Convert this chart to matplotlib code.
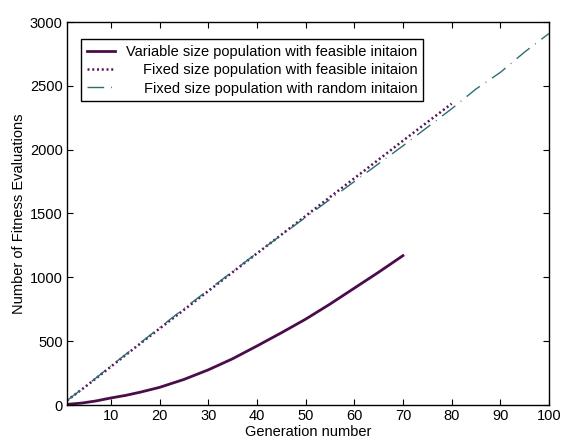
import matplotlib
matplotlib.use("Agg")
import matplotlib.pyplot as plt

plt.rcParams['font.family'] = ['Liberation Sans', 'DejaVu Sans']

# Data
var_gen = [1, 4, 7, 10, 13, 16, 20, 25, 30, 35, 40, 45, 50, 55, 60, 65, 70]
var_eval = [5, 15, 32, 55, 75, 100, 138, 200, 275, 362, 462, 565, 672, 790, 915, 1040, 1170]

fix_gen = [1, 5, 10, 15, 20, 25, 30, 35, 40, 45, 50, 55, 60, 65, 70, 75, 80]
fix_eval = [35, 150, 300, 450, 598, 745, 892, 1040, 1187, 1333, 1480, 1628,
            1775, 1922, 2070, 2215, 2360]

rnd_gen = [1, 5, 10, 15, 20, 25, 30, 35, 40, 45, 50, 55, 60, 65, 70, 75, 80,
           85, 90, 95, 100]
rnd_eval = [35, 152, 305, 455, 605, 755, 900, 1045, 1190, 1330, 1470, 1610,
            1750, 1890, 2030, 2175, 2320, 2475, 2605, 2765, 2910]

labels = ["Variable size population with feasible initaion",
          "Fixed size population with feasible initaion",
          "Fixed size population with random initaion"]

x_ticks = [10, 20, 30, 40, 50, 60, 70, 80, 90, 100]
y_ticks = [0, 500, 1000, 1500, 2000, 2500, 3000]

FS = 10.5

fig = plt.figure(figsize=(5.61, 4.40), dpi=100)
ax = fig.add_axes([67/561, 1-405/440, 482/561, 383/440])

ax.plot(var_gen, var_eval, color='#4a0c4a', lw=2.0, linestyle='-', label=labels[0])
ax.plot(fix_gen, fix_eval, color='#55155a', lw=1.8, linestyle=(0, (0.8, 1.1)), label=labels[1])
ax.plot(rnd_gen, rnd_eval, color='#2a6e70', lw=1.0, linestyle=(0, (12, 5, 0.6, 5)), label=labels[2])

ax.set_xlim(1, 100)
ax.set_ylim(0, 3000)
ax.set_xticks(x_ticks)
ax.set_yticks(y_ticks)
ax.tick_params(direction='in', top=True, right=True, labelsize=FS, length=4, width=0.8, pad=3)
for s in ax.spines.values():
    s.set_linewidth(1.0)

ax.set_xlabel("Generation number", fontsize=FS, labelpad=1)
ax.set_ylabel("Number of Fitness Evaluations", fontsize=FS, labelpad=3)

leg = ax.legend(loc='upper left', bbox_to_anchor=(14/482, 366/383), borderaxespad=0,
                fontsize=FS, fancybox=False, framealpha=1, edgecolor='black',
                handlelength=1.9, handletextpad=0.8, labelspacing=0.3, borderpad=0.4)
leg.get_frame().set_linewidth(1.0)

fig.canvas.draw()
renderer = fig.canvas.get_renderer()
widths = [t.get_window_extent(renderer).width for t in leg.get_texts()]
wmax = max(widths)
for t, w in zip(leg.get_texts(), widths):
    t.set_position((wmax - w, 0))

fig.savefig("out.png", dpi=100)
